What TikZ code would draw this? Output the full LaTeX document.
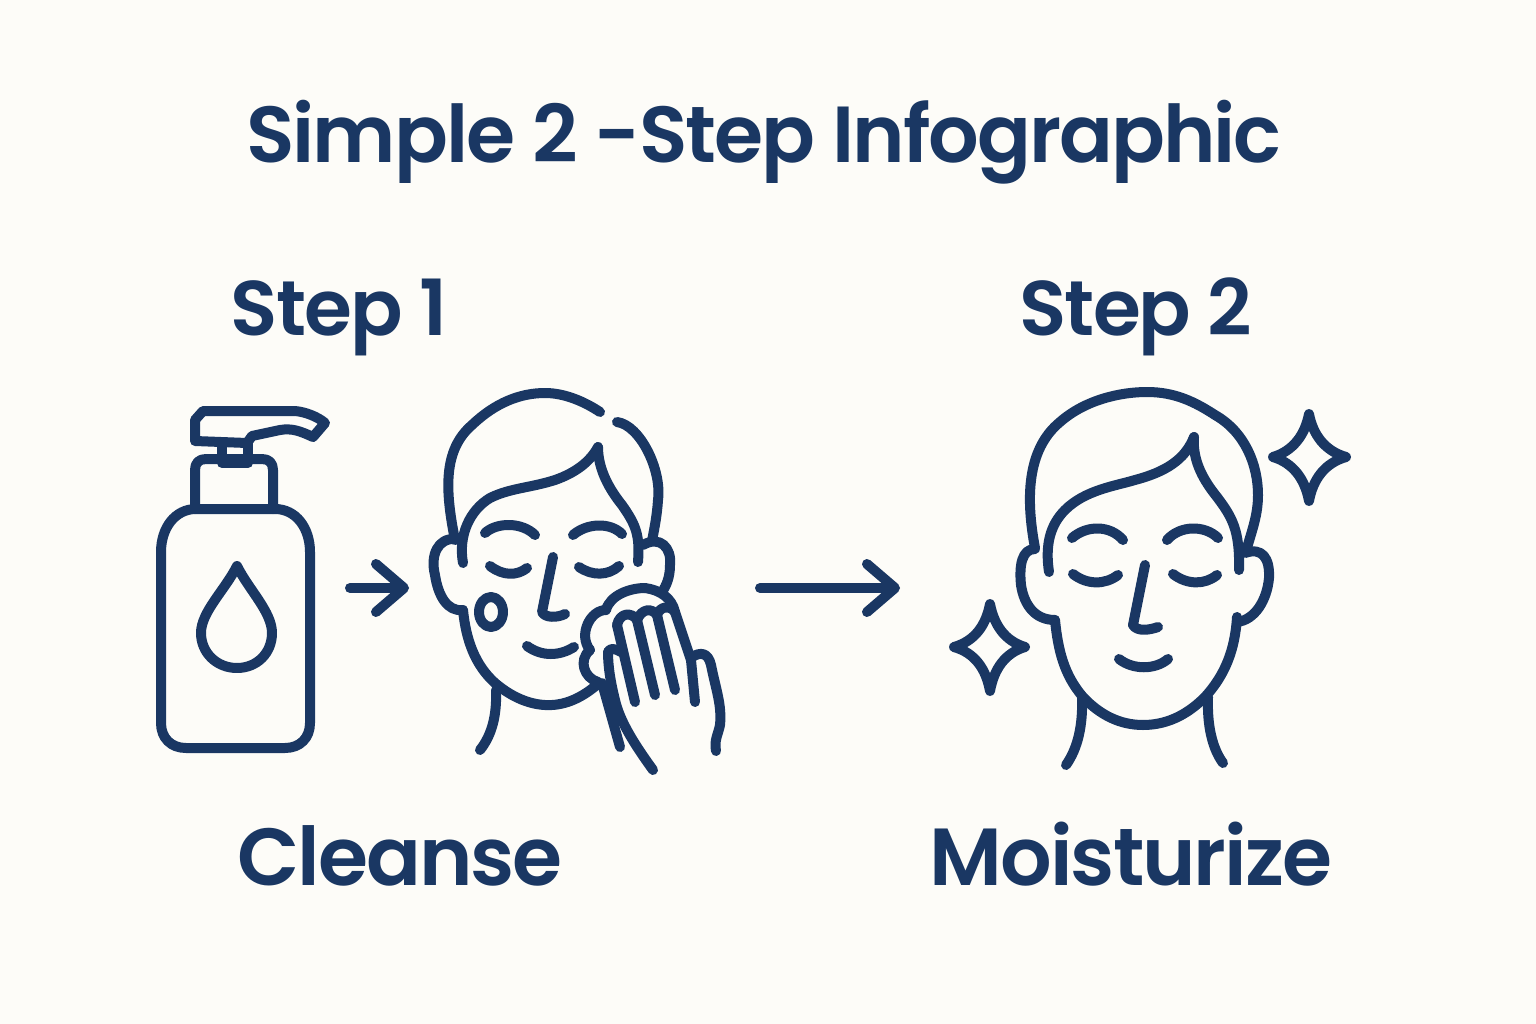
\documentclass[tikz,border=0pt]{standalone}
\usepackage{fontspec}
\setmainfont{Poppins}[BoldFont={Poppins SemiBold},BoldFeatures={LetterSpace=-2.5}]
\usetikzlibrary{arrows.meta}
\definecolor{navy}{HTML}{1A3763}
\definecolor{paper}{HTML}{FDFCF8}
\begin{document}
\begin{tikzpicture}[x=1pt,y=-1pt,
    outline/.style ={draw=navy, line width=10pt, line cap=round, line join=round},
    flow/.style ={outline, -{Straight Barb[length=28pt,width=48pt,round]}},
    heading/.style ={text=navy, inner sep=0pt, anchor=base, font=\bfseries\fontsize{77.5}{90}\selectfont},
    caption/.style ={heading, font=\bfseries\fontsize{81}{90}\selectfont}]
   \fill[paper] (0,0) rectangle (1536,1024);
   \useasboundingbox (0,0) rectangle (1536,1024);
   % texts
   \node[heading, font=\bfseries\fontsize{79.5}{90}\selectfont] (title) at (764,163) {Simple 2 -Step Infographic};
   \node[heading] (stepone) at (339,335) {Step 1};
   \node[heading] (steptwo) at (1136,335) {Step 2};
   \node[caption] (cleanse) at (400,885) {Cleanse};
   \node[caption] (moisturize) at (1131,885) {Moisturize};
   % bottle
   \draw[outline] (196,509) -- (275,509) .. controls (296,509) and (310,528) .. (310,552) -- (310,723) .. controls (310,738) and (300,748) .. (285,748) -- (186,748) .. controls (171,748) and (161,738) .. (161,723) -- (161,552) .. controls (161,528) and (175,509) .. (196,509) -- cycle;
   \draw[outline] (195,509) -- (195,470) .. controls (195,463) and (199,459) .. (206,459) -- (262,459) .. controls (269,459) and (273,463) .. (273,470) -- (273,509);
   \draw[outline] (222,442) -- (222,463) -- (248,463) -- (248,442);
   \draw[outline] (195,441) -- (195,420) -- (203,411) -- (295,411) .. controls (306,412) and (318,417) .. (325,423) -- (313,437) .. controls (300,431) and (292,428) .. (280,430) -- (252,436) -- (247,443) -- cycle;
   \draw[outline] (237,566) .. controls (225,590) and (201,612) .. (201,633) .. controls (201,653) and (217,668) .. (237,668) .. controls (257,668) and (272,653) .. (272,633) .. controls (272,612) and (249,590) .. (237,566) -- cycle;
   % arrows
   \coordinate (bottleside) at (350,588);
   \coordinate (faceside) at (409,588);
   \coordinate (faceout) at (760,588);
   \coordinate (facein) at (900,588);
   \draw[flow] (bottleside) -- (faceside);
   \draw[flow] (faceout) -- (facein);
   % face while washing
   \draw[outline] (455,540) .. controls (445,490) and (443,450) .. (472,425) .. controls (495,403) and (520,393) .. (545,393) .. controls (565,393) and (585,402) .. (600,412);
   \draw[outline] (617,422) .. controls (640,425) and (662,470) .. (658,500) .. controls (657,515) and (655,525) .. (652,541);
   \draw[outline] (463,563) .. controls (458,535) and (470,510) .. (490,498) .. controls (510,488) and (530,488) .. (555,480) .. controls (575,473) and (590,462) .. (598,447);
   \draw[outline] (598,447) .. controls (598,470) and (610,490) .. (622,505) .. controls (636,525) and (640,535) .. (638,562);
   \draw[outline] (455,539) .. controls (438,538) and (430,555) .. (435,575) .. controls (438,595) and (447,612) .. (463,610);
   \draw[outline] (463,610) .. controls (466,640) and (475,665) .. (495,683) .. controls (515,700) and (535,706) .. (552,705) .. controls (570,704) and (585,695) .. (598,684);
   \draw[outline] (643,545) .. controls (660,535) and (672,548) .. (670,565) .. controls (670,578) and (666,586) .. (662,592);
   \draw[outline] (485,533) .. controls (497,522) and (522,522) .. (535,535);
   \draw[outline] (573,535) .. controls (587,523) and (610,522) .. (622,534);
   \draw[outline] (490,566) .. controls (503,576) and (517,576) .. (527,568);
   \draw[outline] (579,567) .. controls (592,576) and (608,576) .. (619,566);
   \draw[outline] (553,557) -- (542,612) .. controls (545,618) and (557,618) .. (565,614);
   \draw[outline] (527,646) .. controls (542,657) and (560,656) .. (574,647);
   \draw[outline] (491,612) ellipse (12 and 15);
   % foam and hand
   \draw[outline] (598,682) .. controls (584,678) and (578,660) .. (590,650);
   \draw[outline] (590,650) .. controls (578,635) and (590,610) .. (606,610);
   \draw[outline] (606,610) .. controls (610,595) and (630,588) .. (645,588);
   \draw[outline] (645,588) .. controls (660,590) and (672,598) .. (675,612);
   \draw[outline] (653,770) .. controls (635,745) and (620,722) .. (615,700) .. controls (610,680) and (608,665) .. (608,652);
   \draw[outline] (608,652) .. controls (610,648) and (614,648) .. (621,652);
   \draw[outline] (617,625) .. controls (620,612) and (632,612) .. (637,620);
   \draw[outline] (617,625) -- (635,702);
   \draw[outline] (637,620) -- (655,695);
   \draw[outline] (637,620) .. controls (642,608) and (652,608) .. (657,615);
   \draw[outline] (657,615) -- (675,690);
   \draw[outline] (657,615) .. controls (660,606) and (670,605) .. (675,612);
   \draw[outline] (675,612) -- (691,660) -- (695,702);
   \draw[outline] (692,657) .. controls (700,652) and (708,652) .. (711,665) .. controls (716,690) and (722,705) .. (720,725) .. controls (718,735) and (714,740) .. (716,751);
   \draw[outline] (602,683) -- (620,747);
   % necks
   \draw[outline] (496,690) .. controls (497,715) and (492,735) .. (480,750);
   \draw[outline] (1082,697) .. controls (1083,725) and (1078,748) .. (1066,765);
   \draw[outline] (1208,697) .. controls (1207,725) and (1212,748) .. (1223,763);
   % fresh face
   \draw[outline] (1035,548) .. controls (1026,500) and (1026,450) .. (1060,422) .. controls (1085,400) and (1120,392) .. (1147,392) .. controls (1175,392) and (1195,402) .. (1215,415) .. controls (1245,432) and (1258,465) .. (1258,495) .. controls (1258,515) and (1252,530) .. (1247,548);
   \draw[outline] (1049,572) .. controls (1045,545) and (1050,525) .. (1065,510) .. controls (1085,490) and (1115,486) .. (1135,480) .. controls (1165,472) and (1185,460) .. (1194,437);
   \draw[outline] (1194,437) .. controls (1192,462) and (1205,482) .. (1217,497) .. controls (1232,517) and (1240,530) .. (1239,570);
   \draw[outline] (1035,549) .. controls (1022,549) and (1019,565) .. (1021,585) .. controls (1024,605) and (1035,620) .. (1055,620);
   \draw[outline] (1055,620) .. controls (1058,650) and (1064,675) .. (1083,697) .. controls (1100,715) and (1120,725) .. (1143,725) .. controls (1170,725) and (1190,712) .. (1205,697) .. controls (1225,675) and (1235,650) .. (1237,617);
   \draw[outline] (1237,622) .. controls (1255,620) and (1267,600) .. (1269,578) .. controls (1270,558) and (1262,547) .. (1245,553);
   \draw[outline] (1072,538) .. controls (1087,525) and (1110,525) .. (1123,540);
   \draw[outline] (1167,540) .. controls (1180,525) and (1205,525) .. (1218,538);
   \draw[outline] (1073,574) .. controls (1087,585) and (1105,585) .. (1118,575);
   \draw[outline] (1173,574) .. controls (1187,585) and (1205,585) .. (1217,575);
   \draw[outline] (1145,565) -- (1133,625) .. controls (1137,632) and (1150,630) .. (1158,627);
   \draw[outline] (1119,659) .. controls (1133,670) and (1155,670) .. (1168,659);
   % sparkles
   \draw[outline] (1309,414) .. controls (1313,435) and (1325,451) .. (1346,457) .. controls (1325,463) and (1313,479) .. (1309,501) .. controls (1305,479) and (1293,463) .. (1273,457) .. controls (1293,451) and (1305,435) .. (1309,414) -- cycle;
   \draw[outline] (990,604) .. controls (994,625) and (1005,641) .. (1025,647) .. controls (1005,653) and (994,669) .. (990,691) .. controls (986,669) and (975,653) .. (954,647) .. controls (975,641) and (986,625) .. (990,604) -- cycle;
\end{tikzpicture}
\end{document}
